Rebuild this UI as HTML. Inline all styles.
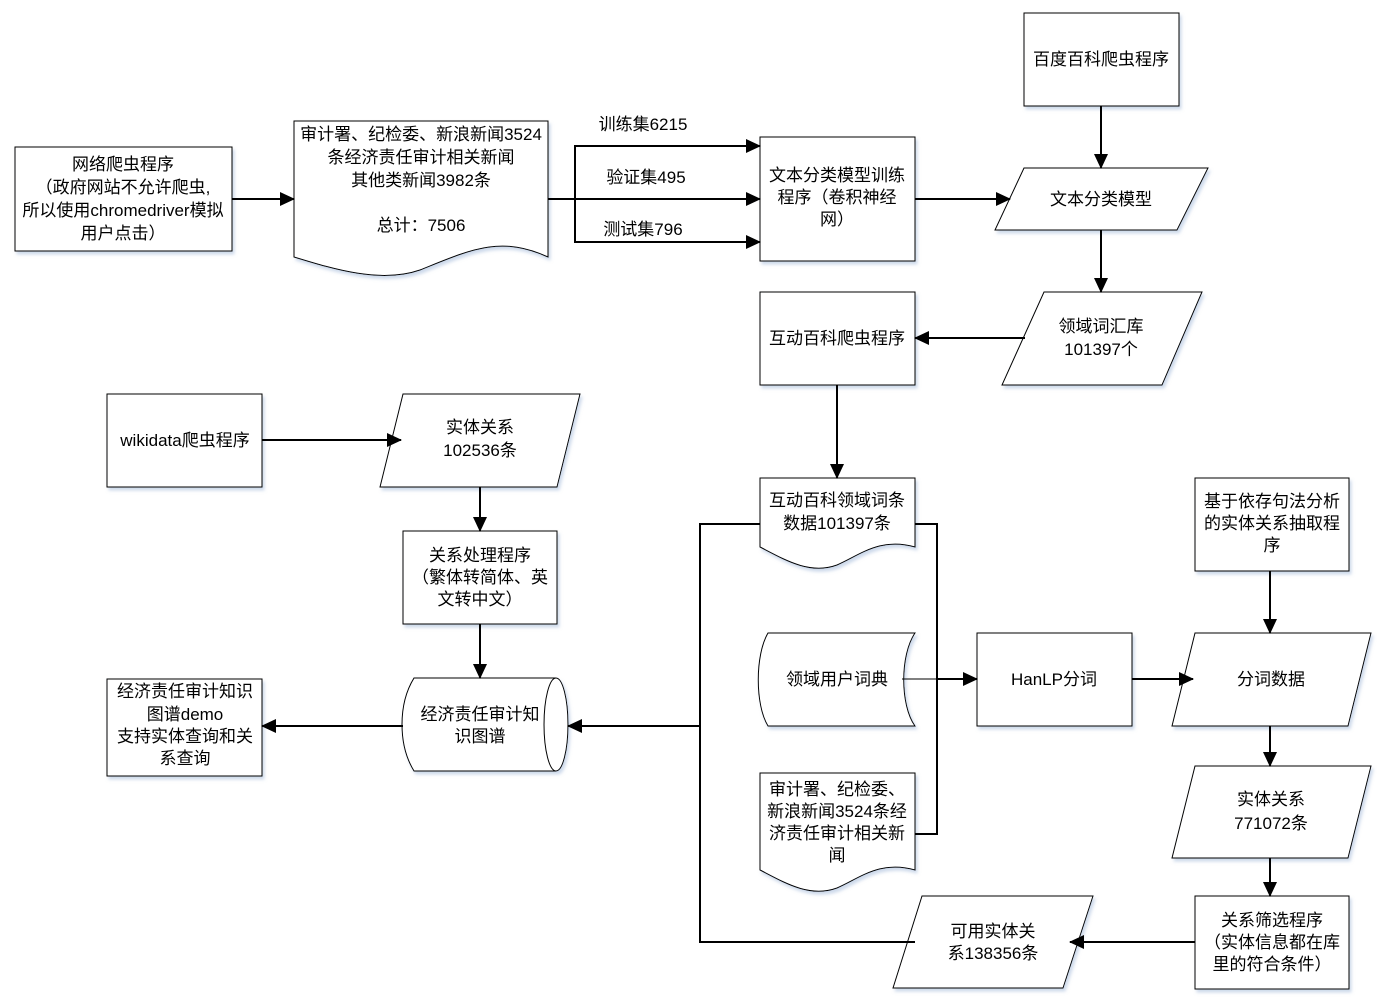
<!DOCTYPE html>
<html><head><meta charset="utf-8"><style>
body{margin:0;background:#fff}
text{font-family:"Liberation Sans","Noto Sans CJK SC",sans-serif;font-size:17px;fill:#000;text-anchor:middle}
</style></head><body>
<svg width="1389" height="1000" viewBox="0 0 1389 1000" xmlns="http://www.w3.org/2000/svg">
<defs>
<marker id="a" markerWidth="15" markerHeight="14" refX="14" refY="7" orient="auto" markerUnits="userSpaceOnUse" viewBox="0 0 15 14"><path d="M0,0L15,7L0,14z" fill="#000"/></marker>
<filter id="s" x="-5%" y="-5%" width="115%" height="115%"><feDropShadow dx="2" dy="3" stdDeviation="1.5" flood-color="#9bb3d6" flood-opacity="0.5"/></filter>
</defs>
<g fill="#fff" stroke="#000" stroke-width="1" filter="url(#s)">
<rect x="15" y="147" width="217" height="104"/>
<path d="M294,121H548V257C500,235 470,250 420,270C380,284 330,268 294,257Z"/>
<rect x="760" y="137" width="155" height="124"/>
<rect x="1024" y="13" width="155" height="93"/>
<path d="M1024,168H1208L1177,230H995Z"/>
<path d="M1044,292H1202L1162,385H1002Z"/>
<rect x="760" y="292" width="155" height="93"/>
<path d="M760,478H915V547C880,537 860,555 837,565C810,575 785,560 760,547Z"/>
<path d="M768,633H915C900,655 900,705 915,726H768C755,705 755,655 768,633Z"/>
<path d="M760,773H915V870C880,860 860,878 837,888C810,898 785,883 760,870Z"/>
<rect x="977" y="633" width="155" height="93"/>
<rect x="1195" y="478" width="154" height="93"/>
<path d="M1195,633H1371L1348,726H1172Z"/>
<path d="M1195,766H1371L1348,858H1172Z"/>
<rect x="1195" y="896" width="154" height="93"/>
<path d="M922,896H1093L1063,988H893Z"/>
<rect x="107" y="394" width="155" height="93"/>
<path d="M403,394H580L557,487H380Z"/>
<rect x="403" y="531" width="154" height="93"/>
<path d="M414,678H556A12,46.5 0 0 1 556,771H414C398,745 398,704 414,678Z"/>
<rect x="107" y="679" width="155" height="97"/>
</g>
<path d="M556,678A12,46.5 0 0 0 556,771" fill="none" stroke="#000"/>
<g stroke="#000" stroke-width="2" fill="none">
<line x1="232" y1="199" x2="294" y2="199" marker-end="url(#a)"/>
<line x1="548" y1="199" x2="760" y2="199" marker-end="url(#a)"/>
<path d="M760,146H575V242H760" marker-end="url(#a)"/>
<line x1="575" y1="146" x2="760" y2="146" marker-end="url(#a)"/>
<line x1="915" y1="199" x2="1010" y2="199" marker-end="url(#a)"/>
<line x1="1101" y1="106" x2="1101" y2="168" marker-end="url(#a)"/>
<line x1="1101" y1="230" x2="1101" y2="292" marker-end="url(#a)"/>
<line x1="1025" y1="338" x2="915" y2="338" marker-end="url(#a)"/>
<line x1="837" y1="385" x2="837" y2="478" marker-end="url(#a)"/>
<path d="M760,524H700V942H915"/>
<path d="M915,524H937V834H915"/>
<line x1="700" y1="726" x2="568" y2="726" marker-end="url(#a)"/>
<line x1="937" y1="679" x2="977" y2="679" marker-end="url(#a)"/>
<line x1="1132" y1="679" x2="1193" y2="679" marker-end="url(#a)"/>
<line x1="1270" y1="571" x2="1270" y2="633" marker-end="url(#a)"/>
<line x1="1270" y1="726" x2="1270" y2="766" marker-end="url(#a)"/>
<line x1="1270" y1="858" x2="1270" y2="896" marker-end="url(#a)"/>
<line x1="1195" y1="942" x2="1070" y2="942" marker-end="url(#a)"/>
<line x1="262" y1="440" x2="401" y2="440" marker-end="url(#a)"/>
<line x1="480" y1="487" x2="480" y2="531" marker-end="url(#a)"/>
<line x1="480" y1="624" x2="480" y2="678" marker-end="url(#a)"/>
<line x1="403" y1="726" x2="262" y2="726" marker-end="url(#a)"/>
</g>
<line x1="902" y1="679" x2="937" y2="679" stroke="#000" stroke-width="1"/>
<text x="123" y="170">网络爬虫程序</text>
<text x="123" y="193">（政府网站不允许爬虫,</text>
<text x="123" y="216">所以使用chromedriver模拟</text>
<text x="123" y="239">用户点击）</text>
<text x="421" y="140">审计署、纪检委、新浪新闻3524</text>
<text x="421" y="163">条经济责任审计相关新闻</text>
<text x="421" y="186">其他类新闻3982条</text>
<text x="421" y="231">总计：7506</text>
<text x="643" y="130">训练集6215</text>
<text x="646" y="183">验证集495</text>
<text x="643" y="235">测试集796</text>
<text x="837" y="181">文本分类模型训练</text>
<text x="837" y="203">程序（卷积神经</text>
<text x="837" y="225">网）</text>
<text x="1101" y="65">百度百科爬虫程序</text>
<text x="1101" y="205">文本分类模型</text>
<text x="1101" y="332">领域词汇库</text>
<text x="1101" y="355">101397个</text>
<text x="837" y="344">互动百科爬虫程序</text>
<text x="837" y="506">互动百科领域词条</text>
<text x="837" y="529">数据101397条</text>
<text x="837" y="685">领域用户词典</text>
<text x="837" y="795">审计署、纪检委、</text>
<text x="837" y="817">新浪新闻3524条经</text>
<text x="837" y="839">济责任审计相关新</text>
<text x="837" y="861">闻</text>
<text x="1054" y="685">HanLP分词</text>
<text x="1272" y="507">基于依存句法分析</text>
<text x="1272" y="529">的实体关系抽取程</text>
<text x="1272" y="551">序</text>
<text x="1271" y="685">分词数据</text>
<text x="1271" y="805">实体关系</text>
<text x="1271" y="829">771072条</text>
<text x="1272" y="926">关系筛选程序</text>
<text x="1272" y="948">（实体信息都在库</text>
<text x="1272" y="970">里的符合条件）</text>
<text x="993" y="937">可用实体关</text>
<text x="993" y="959">系138356条</text>
<text x="185" y="446">wikidata爬虫程序</text>
<text x="480" y="433">实体关系</text>
<text x="480" y="456">102536条</text>
<text x="480" y="561">关系处理程序</text>
<text x="480" y="583">（繁体转简体、英</text>
<text x="480" y="605">文转中文）</text>
<text x="480" y="720">经济责任审计知</text>
<text x="480" y="742">识图谱</text>
<text x="185" y="697">经济责任审计知识</text>
<text x="185" y="720">图谱demo</text>
<text x="185" y="742">支持实体查询和关</text>
<text x="185" y="764">系查询</text>
</svg>
</body></html>
